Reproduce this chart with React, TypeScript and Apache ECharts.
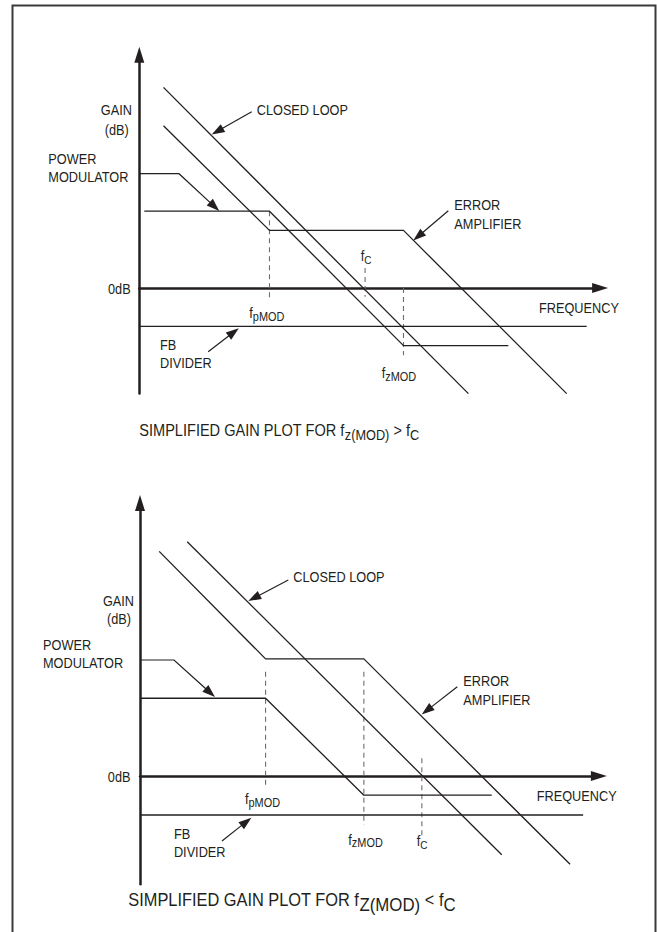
import React, { useEffect, useRef } from "react";
import * as echarts from "echarts";

// x: log10(frequency) in decades from the gain axis, y: gain in dB
// ---- top panel: fz(MOD) > fC ----
const topFB = [[0, -20], [11.65, -20]];
const topPM = [[0.13, 40], [3.39, 40], [6.88, -30], [9.61, -30]];
const topEA = [[0.63, 84.5], [3.39, 30], [6.88, 30], [11.13, -55]];
const topCL = [[0.63, 104.5], [8.57, -55]];
const topFp = [[3.39, 40], [3.39, -5]];
const topFc = [[5.88, 10.4], [5.88, -4.5]];
const topFz = [[6.88, 0], [6.88, -35]];
// ---- bottom panel: fz(MOD) < fC ----
const botFB = [[0, -20.3], [11.54, -20.3]];
const botPM = [[0, 40.5], [3.27, 40.5], [5.83, -10], [9.16, -10]];
const botEA = [[0.5, 117], [3.27, 61], [5.83, 61], [11.2, -46]];
const botCL = [[1.23, 122], [9.42, -41]];
const botFp = [[3.27, 54.3], [3.27, -5.2]];
const botFz = [[5.83, 54.3], [5.83, -25.5]];
const botFc = [[7.34, 9.2], [7.34, -31.6]];

const xRanges = [[0, 12], [0, 11.95]];
const yRanges = [[-55, 121.5], [-56.4, 142.2]];

const titles = [
  ["SIMPLIFIED GAIN PLOT FOR f", "z(MOD)", " > f", "C"],
  ["SIMPLIFIED GAIN PLOT FOR f", "Z(MOD)", " < f", "C"],
];

const INK = "#231f20";
const DASH = "#6d6d6d";
const FAMILY = "Liberation Sans";
const SX = 0.91;
const PX_DEC = 38.4;
const PX_DB = 1.92;

export default function App() {
  const ref = useRef<HTMLDivElement>(null);
  useEffect(() => {
    if (!ref.current) return;
    const chart = echarts.init(ref.current, undefined, { renderer: "svg" });
    const cv = document.createElement("canvas");
    const ctx = cv.getContext("2d")!;
    const tw = (t: string, s: number) => {
      ctx.font = `${s}px "${FAMILY}"`;
      return ctx.measureText(t).width * SX;
    };
    const T = (x: number, y: number, text: string, size = 14, align = "left") => ({
      type: "text",
      x,
      y,
      scaleX: SX,
      silent: true,
      z: 20,
      style: {
        text,
        fontSize: size,
        fontFamily: FAMILY,
        fill: INK,
        align,
        verticalAlign: "middle",
        textAlign: align,
        textVerticalAlign: "middle",
      },
    });
    // sequence of [text, isSub]
    const seq = (x: number, y: number, parts: [string, boolean][], S: number, s: number, d: number) => {
      const out: any[] = [];
      let cx = x;
      for (const [t, sub] of parts) {
        const size = sub ? s : S;
        const yy = sub ? y + 0.35 * (S - s) + d : y;
        out.push(T(cx, yy, t, size));
        cx += tw(t, size);
      }
      return out;
    };
    const arrow = (pts: number[][]) => {
      const [tx, ty] = pts[pts.length - 1];
      const [px, py] = pts[pts.length - 2];
      const dx = tx - px, dy = ty - py;
      const L = Math.hypot(dx, dy);
      const ux = dx / L, uy = dy / L;
      const len = 13, hw = 4.5;
      const bx = tx - ux * len, by = ty - uy * len;
      const line = pts.slice(0, -1).concat([[bx + ux, by + uy]]);
      return [
        { type: "polyline", silent: true, z: 20, shape: { points: line }, style: { stroke: INK, lineWidth: 1.2, fill: "none" } },
        {
          type: "polygon",
          silent: true,
          z: 20,
          shape: { points: [[tx, ty], [bx - uy * hw, by + ux * hw], [bx + uy * hw, by - ux * hw]] },
          style: { fill: INK },
        },
      ];
    };

    const grids = [
      { left: 139.3, zeroY: 288 },
      { left: 140, zeroY: 776 },
    ].map((g, i) => ({
      left: g.left,
      width: (xRanges[i][1] - xRanges[i][0]) * PX_DEC,
      top: g.zeroY - yRanges[i][1] * PX_DB,
      height: (yRanges[i][1] - yRanges[i][0]) * PX_DB,
      containLabel: false,
      outerBoundsMode: "none",
    }));

    const axisCommon = {
      type: "value",
      axisTick: { show: false },
      axisLabel: { show: false },
      splitLine: { show: false },
      axisLine: {
        show: true,
        onZero: true,
        symbol: ["none", "triangle"],
        symbolSize: [10, 16],
        lineStyle: { color: INK, width: 2.5 },
      },
    };

    const ser = (data: number[][], g: number, dashed = false) => ({
      type: "line",
      xAxisIndex: g,
      yAxisIndex: g,
      data,
      symbol: "none",
      showSymbol: false,
      silent: true,
      clip: false,
      z: dashed ? 1 : 2,
      lineStyle: dashed
        ? { color: DASH, width: 1.1, type: [5, 4] }
        : { color: INK, width: 1.3, type: "solid" },
    });

    const graphic: any[] = [
      {
        type: "polyline",
        silent: true,
        z: 20,
        shape: { points: [[12.5, 932], [12.5, 5.5], [655.5, 5.5], [655.5, 932]] },
        style: { stroke: "#3a3a3a", lineWidth: 2, fill: "none" },
      },
      // top panel labels
      T(116.3, 110.7, "GAIN", 14, "center"),
      T(116.8, 130.5, "(dB)", 14, "center"),
      T(48.3, 159, "POWER"),
      T(48.3, 177.7, "MODULATOR"),
      T(130.7, 289, "0dB", 14, "right"),
      T(256.7, 110.7, "CLOSED LOOP"),
      T(454.3, 205.7, "ERROR"),
      T(454.3, 224.3, "AMPLIFIER"),
      T(539, 308.3, "FREQUENCY"),
      T(160, 345, "FB"),
      T(160, 363.3, "DIVIDER"),
      ...seq(360.7, 256.7, [["f", false], ["C", true]], 14, 11, 2.5),
      ...seq(249.3, 313.3, [["f", false], ["pMOD", true]], 14, 12, 2.5),
      ...seq(381.7, 373.3, [["f", false], ["zMOD", true]], 14, 12, 2.5),
      ...seq(139.3, 430, [[titles[0][0], false], [titles[0][1], true], [titles[0][2], false], [titles[0][3], true]], 16, 14, 4.5),
      ...arrow([[140, 173.7], [179, 173.7], [219.3, 211]]),
      ...arrow([[251.7, 111.7], [211.7, 134.5]]),
      ...arrow([[448.3, 210.7], [413.3, 240.5]]),
      ...arrow([[208.2, 351.7], [238.8, 328.3]]),
      // bottom panel labels
      T(118.5, 601.5, "GAIN", 14, "center"),
      T(119, 619.5, "(dB)", 14, "center"),
      T(43, 645, "POWER"),
      T(43, 663.7, "MODULATOR"),
      T(130.5, 777, "0dB", 14, "right"),
      T(293.3, 577.7, "CLOSED LOOP"),
      T(463.3, 681.7, "ERROR"),
      T(463.3, 700, "AMPLIFIER"),
      T(536.7, 796.7, "FREQUENCY"),
      T(173.9, 834.3, "FB"),
      T(173.9, 852.7, "DIVIDER"),
      ...seq(245, 799.3, [["f", false], ["pMOD", true]], 14, 12, 2.5),
      ...seq(348.3, 840, [["f", false], ["zMOD", true]], 14, 12, 2.5),
      ...seq(416.7, 841.7, [["f", false], ["C", true]], 14, 11, 2.5),
      ...seq(128.3, 900, [[titles[1][0], false], [titles[1][1], true], [titles[1][2], false], [titles[1][3], true]], 18, 18.5, 5),
      ...arrow([[140, 660], [174, 660], [215, 697]]),
      ...arrow([[288.3, 580], [248.3, 601]]),
      ...arrow([[457.3, 686.7], [421.7, 714.5]]),
      ...arrow([[222, 841], [251.4, 817.7]]),
    ];

    chart.setOption({
      animation: false,
      backgroundColor: "#ffffff",
      grid: grids,
      xAxis: [0, 1].map((i) => ({ ...axisCommon, gridIndex: i, min: xRanges[i][0], max: xRanges[i][1] })),
      yAxis: [0, 1].map((i) => ({ ...axisCommon, gridIndex: i, min: yRanges[i][0], max: yRanges[i][1] })),
      series: [
        ser(topFB, 0), ser(topPM, 0), ser(topEA, 0), ser(topCL, 0),
        ser(topFp, 0, true), ser(topFc, 0, true), ser(topFz, 0, true),
        ser(botFB, 1), ser(botPM, 1), ser(botEA, 1), ser(botCL, 1),
        ser(botFp, 1, true), ser(botFz, 1, true), ser(botFc, 1, true),
      ],
      graphic,
    });
    return () => chart.dispose();
  }, []);
  return (
    <div
      ref={ref}
      style={{ position: "absolute", left: 0, top: 0, width: 657, height: 932, background: "#fff" }}
    />
  );
}
